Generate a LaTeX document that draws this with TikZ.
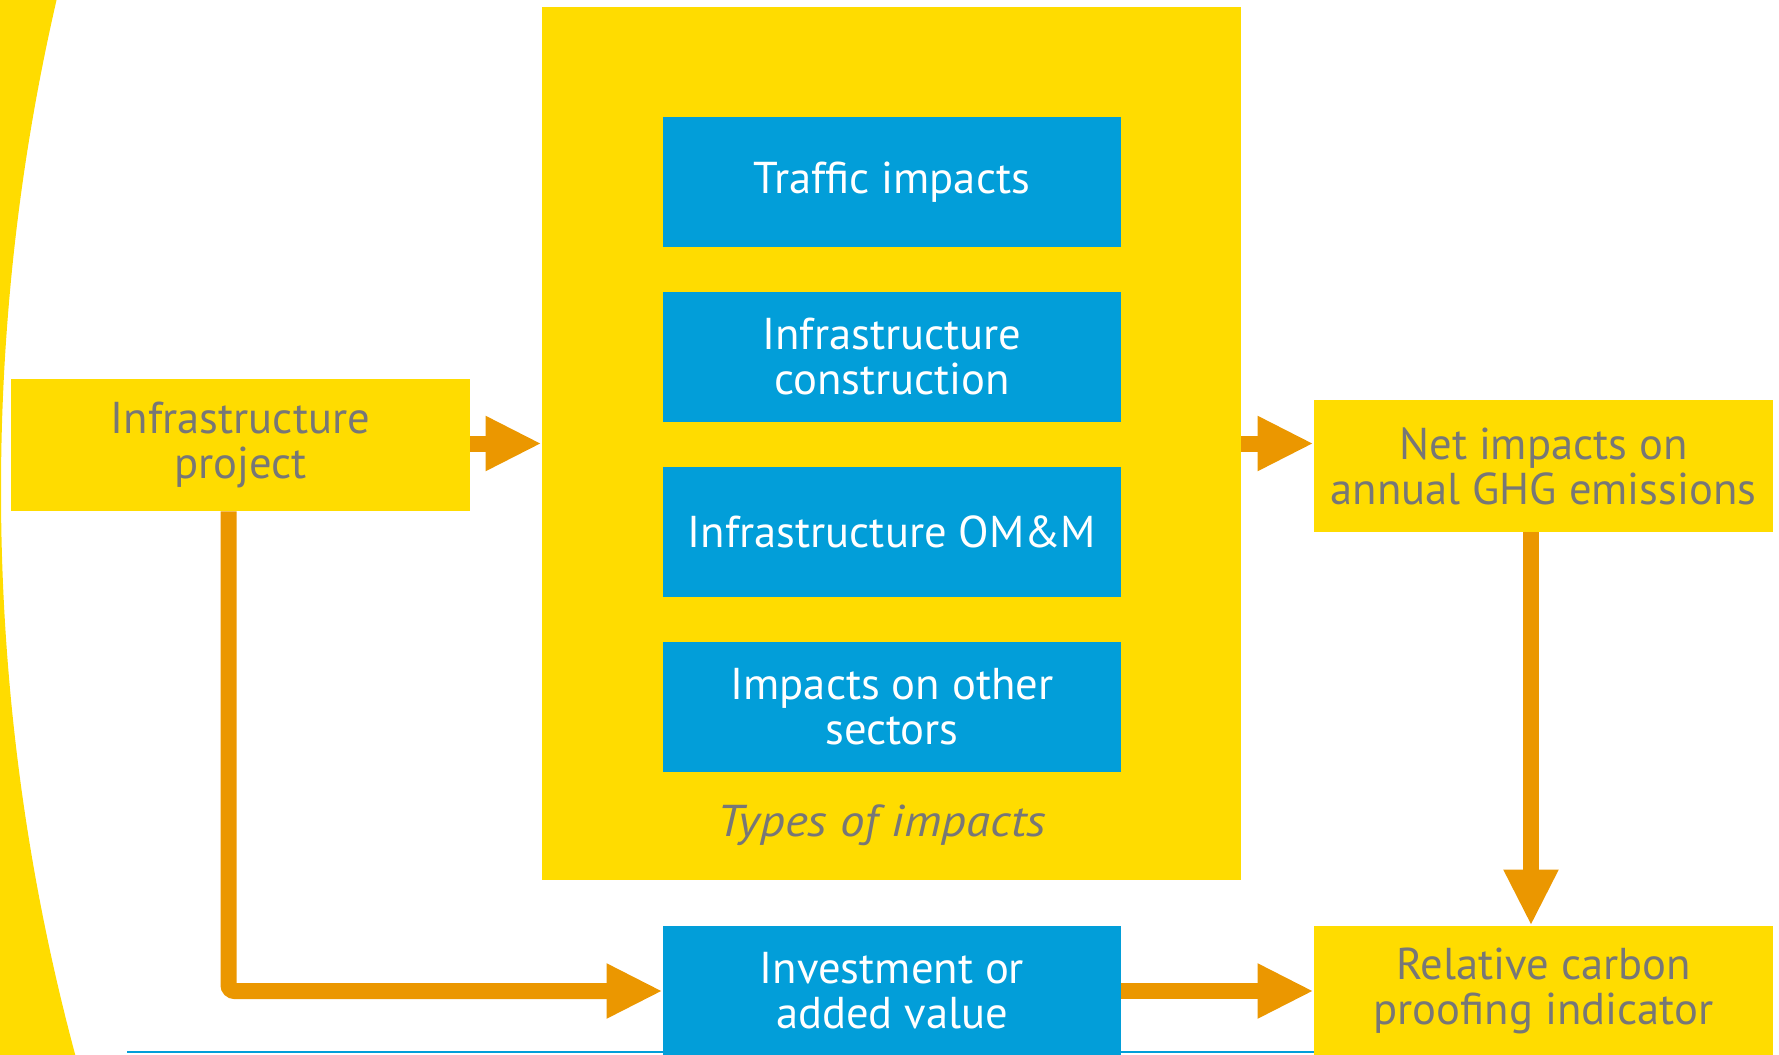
\documentclass[tikz,border=0pt]{standalone}
\usepackage{fontspec}
\setmainfont{PT Sans}
\usetikzlibrary{arrows.meta}
\definecolor{eyellow}{HTML}{FFDC00}
\definecolor{eblue}{HTML}{029ED9}
\definecolor{eorange}{HTML}{EB9700}
\definecolor{egray}{HTML}{777777}
\begin{document}
\begin{tikzpicture}[x=0.5pt,y=-0.5pt,
  txt/.style={font=\fontsize{22.3pt}{22.5pt}\selectfont, align=center, inner sep=0pt},
  bluebox/.style={txt, fill=eblue, text=white, minimum width=229pt, minimum height=65pt},
  yelbox/.style={txt, fill=eyellow, text=egray, minimum width=229.5pt, minimum height=66pt},
  flow/.style={draw=eorange, line width=8pt, -{Triangle[length=28pt,width=25.5pt]}}]
\useasboundingbox (0,0) rectangle (1779,1055);

% curved band on the left edge
\begin{scope}
  \clip (0,0) rectangle (150,1055);
  \fill[eyellow, even odd rule] (-20,-20) rectangle (300,1080) (2171,490) circle (2170);
\end{scope}

% thin base line
\coordinate (lineL) at (127,1052);
\coordinate (lineR) at (1314,1052);
\draw[eblue, line width=1.2pt] (lineL) -- (lineR);

% container for the impact types
\node[fill=eyellow, minimum width=349.5pt, minimum height=436.5pt, inner sep=0pt] (big) at (891.5,443.5) {};
\node[bluebox] (traffic) at (892,182) {Traffic impacts};
\node[bluebox] (constr) at (892,357) {Infrastructure\\construction};
\node[bluebox] (omm) at (892,531.5) {Infrastructure OM\&M};
\node[bluebox] (other) at (892,706.5) {Impacts on other\\sectors};
\node[txt, text=egray, font=\fontsize{22.3pt}{22.5pt}\selectfont\itshape\addfontfeature{FakeStretch=1.1}] (types) at (882,825) {Types of impacts};

\node[bluebox] (invest) at (892,991) {Investment or\\added value};
\node[yelbox] (proj) at (240.5,445) {Infrastructure\\project};
\node[yelbox] (net) at (1543.5,466) {Net impacts on\\annual GHG emissions};
\node[yelbox, minimum height=65pt] (rel) at (1543.5,991) {Relative carbon\\proofing indicator};

% connectors
\coordinate (lx) at (228.5,0);
\coordinate (vx) at (1531,0);
\draw[flow] (proj.east |- big.west) -- (big.west);
\draw[flow] (big.east) -- (big.east -| net.west);
\draw[flow] (net.south -| vx) -- (rel.north -| vx);
\draw[flow, rounded corners=3pt] (proj.south -| lx) |- (invest.west);
\draw[flow] (invest.east) -- (rel.west);
\end{tikzpicture}
\end{document}
